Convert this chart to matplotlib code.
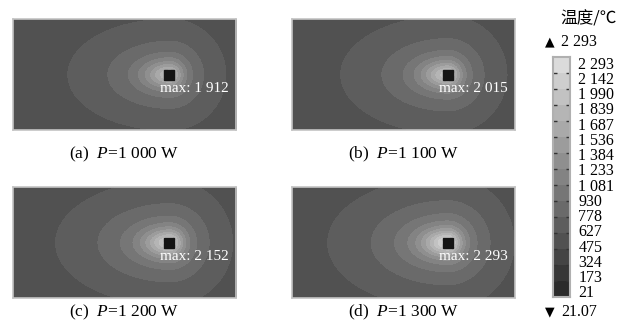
import numpy as np
import matplotlib
matplotlib.use('Agg')
import matplotlib.pyplot as plt
from matplotlib.colors import ListedColormap, BoundaryNorm

plt.rcParams['mathtext.fontset'] = 'custom'
plt.rcParams['mathtext.rm'] = 'Liberation Serif'
plt.rcParams['mathtext.it'] = 'Liberation Serif:italic'

# Data
panel_tags   = ['(a)', '(b)', '(c)', '(d)']
powers       = ['1 000', '1 100', '1 200', '1 300']
peak_temps   = [1912, 2015, 2152, 2293]
max_labels   = ['1 912', '2 015', '2 152', '2 293']
edge_temps   = [490, 495, 500, 505]      # approx. far-field level
cb_levels    = [21, 173, 324, 475, 627, 778, 930, 1081, 1233, 1384,
                1536, 1687, 1839, 1990, 2142, 2293]
cb_labels    = ['21', '173', '324', '475', '627', '778', '930', '1 081',
                '1 233', '1 384', '1 536', '1 687', '1 839', '1 990',
                '2 142', '2 293']
t_min, t_max = '21.07', '2 293'

# Spot position (plate is 2 x 1) and shape of the hot zone
SPOT_X, SPOT_Y = 1.40, 0.50
CORE_W, TAIL_L, CORE_FRAC, TRAIL = 0.12, 0.27, 0.365, 1.8

grays = np.linspace(0.17, 0.86, len(cb_levels) - 1)
cmap = ListedColormap([(g, g, g) for g in grays])
norm = BoundaryNorm(cb_levels, cmap.N)

xs = np.linspace(0, 2, 446)
ys = np.linspace(0, 1, 222)
X, Y = np.meshgrid(xs, ys)
dx = X - SPOT_X
dx = np.where(dx < 0, dx / TRAIL, dx)
R = np.sqrt(dx ** 2 + (Y - SPOT_Y) ** 2)
shape = (CORE_FRAC * np.exp(-(R / CORE_W) ** 2)
         + (1 - CORE_FRAC) * np.exp(-R / TAIL_L))

fig = plt.figure(figsize=(6.33, 3.25), dpi=100)

boxes = [(13, 19), (292, 19), (13, 187), (292, 187)]
cap_y = [154, 154, 312, 312]
W, H = 633.0, 325.0
for i, (px, py) in enumerate(boxes):
    ax = fig.add_axes([px / W, 1 - (py + 111) / H, 223 / W, 111 / H])
    field = edge_temps[i] + (peak_temps[i] - edge_temps[i]) * shape
    ax.imshow(field, extent=[0, 2, 0, 1], origin='lower', cmap=cmap,
              norm=norm, aspect='auto', interpolation='nearest')
    ax.plot([SPOT_X], [SPOT_Y], marker='s', ms=6.5, color='#151515')
    ax.text(SPOT_X - 0.08, SPOT_Y - 0.13, 'max: ' + max_labels[i],
            color='white', fontsize=11, family='Liberation Serif',
            ha='left', va='center')
    ax.set_xlim(0, 2)
    ax.set_ylim(0, 1)
    ax.set_xticks([])
    ax.set_yticks([])
    for s in ax.spines.values():
        s.set_color('#c4c4c4')
        s.set_linewidth(1.2)
    fig.text((px + 111.5) / W, 1 - cap_y[i] / H,
             panel_tags[i] + '  $P$=' + powers[i] + ' W',
             ha='center', va='center', fontsize=12.5, family='Liberation Serif')

# Colour bar
cax = fig.add_axes([553 / W, 1 - 297 / H, 17 / W, 240 / H])
nb = len(cb_levels) - 1
cax.imshow(np.arange(nb).reshape(-1, 1), extent=[0, 1, 0, nb], origin='lower',
           cmap=cmap, aspect='auto', interpolation='nearest')
cax.set_xlim(0, 1)
cax.set_ylim(0, nb)
cax.set_xticks([])
cax.yaxis.tick_right()
cax.set_yticks(np.linspace(0.35, nb - 0.35, len(cb_labels)))
cax.set_yticklabels(cb_labels, family='Liberation Serif', fontsize=11.5)
cax.tick_params(axis='y', which='major', length=0, pad=6)
cax.set_yticks(np.arange(1, nb), minor=True)
cax.tick_params(axis='y', which='minor', direction='in', length=3,
                width=1, color='#333333', left=True, right=True)
for s in cax.spines.values():
    s.set_color('#b0b0b0')
    s.set_linewidth(1.5)

fig.text(589 / W, 1 - 19 / H, '温度/℃', ha='center', va='center',
         fontsize=12, family=['Noto Sans CJK SC', 'DejaVu Sans'])
fig.text(545 / W, 1 - 42 / H, '▲', ha='left', va='center', fontsize=9,
         family='DejaVu Sans')
fig.text(561 / W, 1 - 42 / H, t_max, ha='left', va='center', fontsize=11.5,
         family='Liberation Serif')
fig.text(545 / W, 1 - 312 / H, '▼', ha='left', va='center', fontsize=9,
         family='DejaVu Sans')
fig.text(561 / W, 1 - 312 / H, t_min, ha='left', va='center', fontsize=11.5,
         family='Liberation Serif')

fig.savefig('out.png', dpi=100)
